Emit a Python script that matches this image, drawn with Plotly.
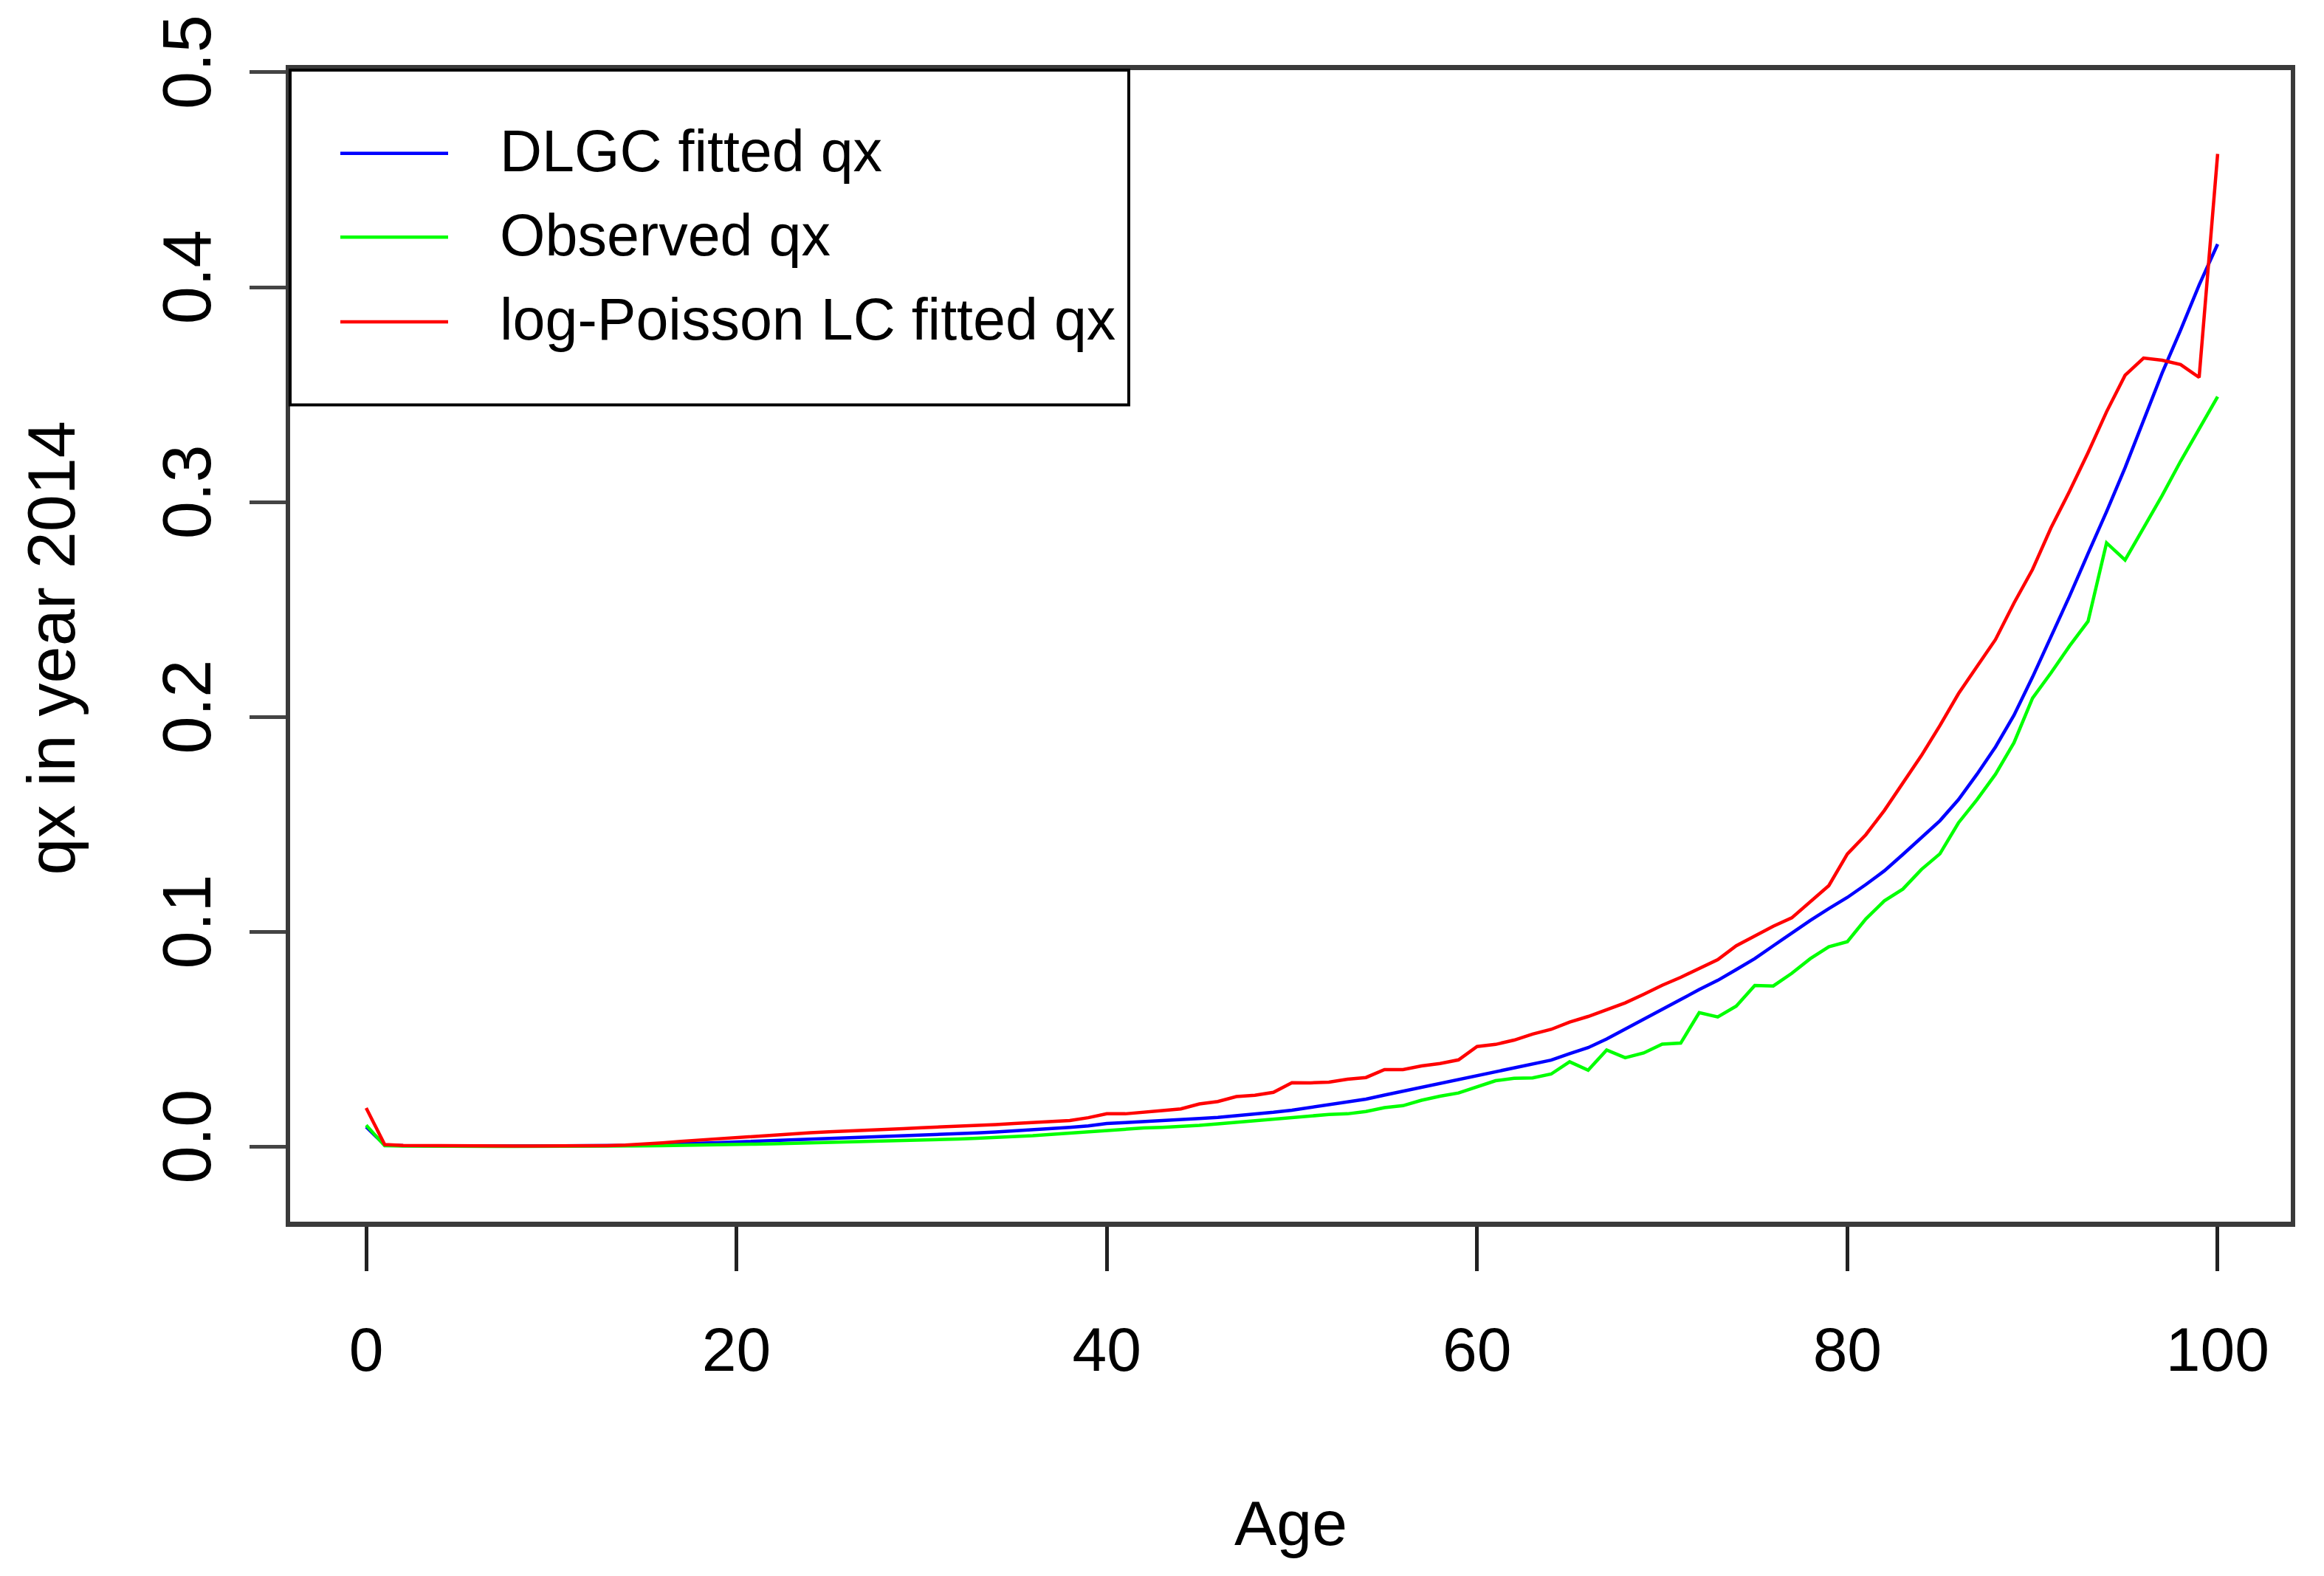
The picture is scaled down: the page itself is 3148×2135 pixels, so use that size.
import plotly.graph_objects as go

ages = list(range(0, 101))

dlgc_fitted = [
    0.0092, 0.0008, 0.0005, 0.0004, 0.0003, 0.0003, 0.0003, 0.0003, 0.0003, 0.0003,
    0.0003, 0.0003, 0.0004, 0.0005, 0.0006, 0.0008, 0.0010, 0.0013, 0.0016, 0.0019,
    0.0022, 0.0025, 0.0028, 0.0031, 0.0034, 0.0037, 0.0040, 0.0043, 0.0046, 0.0049,
    0.0052, 0.0056, 0.0060, 0.0064, 0.0068, 0.0073, 0.0078, 0.0084, 0.0090, 0.0097,
    0.0108, 0.0112, 0.0116, 0.0120, 0.0126, 0.0131, 0.0136, 0.0143, 0.0151, 0.0160,
    0.0170, 0.0182, 0.0194, 0.0207, 0.0221, 0.0240, 0.0258, 0.0276, 0.0295, 0.0313,
    0.0330, 0.0347, 0.0364, 0.0382, 0.0403, 0.0433, 0.0461, 0.0501, 0.0548, 0.0591,
    0.0640, 0.0685, 0.0731, 0.0774, 0.0824, 0.0875, 0.0935, 0.0995, 0.1053, 0.1108,
    0.1160, 0.1220, 0.1284, 0.1360, 0.1438, 0.1517, 0.1615, 0.1733, 0.1860, 0.2008,
    0.2185, 0.2370, 0.2562, 0.2760, 0.2955, 0.3160, 0.3380, 0.3600, 0.3800, 0.4010,
    0.4200,
]

observed = [
    0.0100, 0.0005, 0.0003, 0.0002, 0.0002, 0.0002, 0.0002, 0.0001, 0.0001, 0.0001,
    0.0001, 0.0002, 0.0002, 0.0002, 0.0003, 0.0004, 0.0005, 0.0007, 0.0008, 0.0010,
    0.0011, 0.0012, 0.0013, 0.0015, 0.0017, 0.0019, 0.0021, 0.0023, 0.0025, 0.0027,
    0.0030, 0.0033, 0.0036, 0.0039, 0.0042, 0.0046, 0.0051, 0.0057, 0.0063, 0.0070,
    0.0078, 0.0083, 0.0087, 0.0090, 0.0093, 0.0099, 0.0106, 0.0113, 0.0119, 0.0127,
    0.0136, 0.0143, 0.0150, 0.0153, 0.0164, 0.0182, 0.0191, 0.0216, 0.0235, 0.0250,
    0.0278, 0.0307, 0.0318, 0.0320, 0.0338, 0.0395, 0.0356, 0.0450, 0.0414, 0.0436,
    0.0477, 0.0482, 0.0624, 0.0604, 0.0654, 0.0750, 0.0748, 0.0807, 0.0875, 0.0930,
    0.0954, 0.1060, 0.1144, 0.1199, 0.1290, 0.1363, 0.1507, 0.1615, 0.1733, 0.1880,
    0.2087, 0.2205, 0.2330, 0.2445, 0.2810, 0.2730, 0.2880, 0.3030, 0.3190, 0.3340,
    0.3490,
]

lc_fitted = [
    0.0180, 0.0010, 0.0006, 0.0005, 0.0004, 0.0004, 0.0004, 0.0003, 0.0003, 0.0003,
    0.0003, 0.0003, 0.0004, 0.0005, 0.0007, 0.0011, 0.0018, 0.0025, 0.0031, 0.0038,
    0.0044, 0.0049, 0.0053, 0.0059, 0.0065, 0.0069, 0.0072, 0.0075, 0.0079, 0.0084,
    0.0088, 0.0091, 0.0094, 0.0098, 0.0103, 0.0108, 0.0112, 0.0116, 0.0122, 0.0135,
    0.0153, 0.0153, 0.0159, 0.0168, 0.0176, 0.0199, 0.0210, 0.0233, 0.0239, 0.0253,
    0.0298, 0.0297, 0.0300, 0.0314, 0.0322, 0.0359, 0.0359, 0.0376, 0.0387, 0.0404,
    0.0466, 0.0476, 0.0496, 0.0524, 0.0546, 0.0580, 0.0606, 0.0636, 0.0669, 0.0709,
    0.0751, 0.0788, 0.0829, 0.0870, 0.0935, 0.0980, 0.1026, 0.1065, 0.1141, 0.1215,
    0.1362, 0.1452, 0.1565, 0.1690, 0.1820, 0.1960, 0.2108, 0.2234, 0.2360, 0.2530,
    0.2686, 0.2880, 0.3050, 0.3230, 0.3420, 0.3590, 0.3670, 0.3660, 0.3640, 0.3580,
    0.4620,
]

series_names = ["DLGC fitted qx", "Observed qx", "log-Poisson LC fitted qx"]
series_colors = ["#0000FF", "#00FF00", "#FF0000"]
series_values = [dlgc_fitted, observed, lc_fitted]

x_ticks = [0, 20, 40, 60, 80, 100]
y_ticks = [0.0, 0.1, 0.2, 0.3, 0.4, 0.5]
y_tick_labels = ["0.0", "0.1", "0.2", "0.3", "0.4", "0.5"]

W, H = 3148, 2135
BODY = 8  # default page margin of the html body
PL, PR, PT, PB = 393, 3103, 90, 1655  # target plot-area box on the page
PW, PH = PR - PL, PB - PT

def px_x(p):
    return (p - PL) / PW

def px_y(p):
    return (PB - p) / PH

FONT = "Liberation Sans, Arial, sans-serif"

fig = go.Figure()
for name, color, vals in zip(series_names, series_colors, series_values):
    fig.add_trace(go.Scatter(x=ages, y=vals, mode="lines", name=name,
                             line=dict(color=color, width=4.5), showlegend=False))

fig.update_layout(
    width=W, height=H,
    margin=dict(l=PL - BODY, r=W - PR + BODY, t=PT - BODY, b=H - PB + BODY),
    paper_bgcolor="white", plot_bgcolor="white",
    showlegend=False,
    xaxis=dict(range=[-4.107, 103.95], tickvals=x_ticks, ticks="outside",
               ticklen=60, tickwidth=5, tickcolor="#222",
               showline=True, mirror=True, linewidth=7, linecolor="#3a3a3a",
               showgrid=False, zeroline=False,
               tickfont=dict(family=FONT, size=84, color="black"),
               ticklabelstandoff=34),
    yaxis=dict(range=[-0.0349, 0.501], tickvals=y_ticks, ticktext=y_tick_labels,
               ticks="outside", ticklen=49, tickwidth=5, tickcolor="#444",
               showline=True, mirror=True, linewidth=6, linecolor="#3a3a3a",
               showgrid=False, zeroline=False, tickangle=-90,
               tickfont=dict(family=FONT, size=92, color="black"),
               ticklabelstandoff=16),
)

# axis titles
fig.add_annotation(text="Age", xref="paper", yref="paper", x=px_x(1748), y=px_y(2064),
                   showarrow=False, xanchor="center", yanchor="middle",
                   font=dict(family=FONT, size=86, color="black"))
fig.add_annotation(text="qx in year 2014", xref="paper", yref="paper", x=px_x(70), y=px_y(876),
                   showarrow=False, xanchor="center", yanchor="middle", textangle=-90,
                   font=dict(family=FONT, size=90, color="black"))

# legend box
fig.add_shape(type="rect", xref="paper", yref="paper",
              x0=px_x(393), x1=px_x(1529), y0=px_y(545), y1=px_y(90),
              line=dict(color="black", width=4), fillcolor="white", layer="above")
legend_rows = [203, 317, 432]
for name, color, ypix in zip(series_names, series_colors, legend_rows):
    fig.add_shape(type="line", xref="paper", yref="paper",
                  x0=px_x(461), x1=px_x(607), y0=px_y(ypix), y1=px_y(ypix),
                  line=dict(color=color, width=4.5), layer="above")
    fig.add_annotation(text=name, xref="paper", yref="paper", x=px_x(675), y=px_y(ypix - 3),
                       showarrow=False, xanchor="left", yanchor="middle",
                       font=dict(family=FONT, size=79, color="black"))

fig.write_html("out.html")
